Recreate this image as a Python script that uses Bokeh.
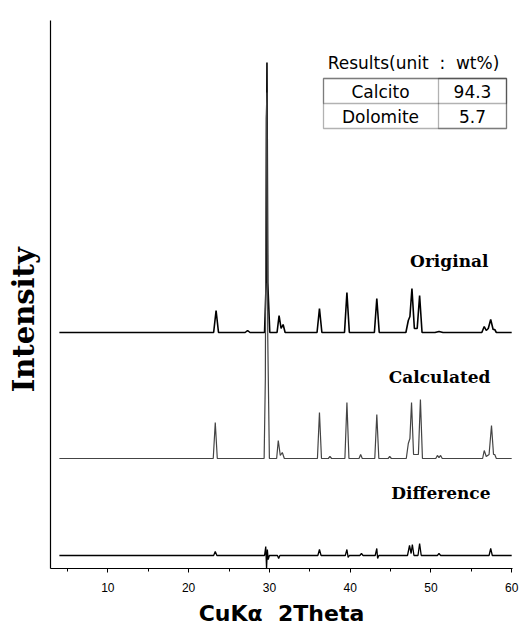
from bokeh.plotting import figure
from bokeh.models import Range1d, FixedTicker, Label, BoxAnnotation
from bokeh.embed import file_html
from bokeh.resources import INLINE

# ---- data (2theta, intensity above each trace's own baseline) ----
orig_x = [4.0, 23.1, 23.4, 23.7, 27.0, 27.3, 27.6, 29.4, 29.6, 29.7, 29.8, 30.05,
          30.95, 31.2, 31.45, 31.7, 31.95, 35.9, 36.2, 36.5, 39.3, 39.6, 39.9,
          43.0, 43.3, 43.6, 46.9, 47.2, 47.4, 47.65, 47.95, 48.3, 48.6, 48.9,
          50.5, 51.0, 51.5, 56.3, 56.6, 56.85, 57.1, 57.4, 57.7, 57.9, 58.1, 60.0]
orig_y = [0, 0, 22, 0, 0, 2, 0, 0, 50, 270, 50, 0,
          0, 17, 4, 8, 0, 0, 24, 0, 0, 40, 0,
          0, 34, 0, 0, 12, 16, 44, 4, 4, 37, 0,
          0, 1, 0, 0, 6, 2, 4, 13, 3, 3, 0, 0]

calc_x = [4.0, 23.05, 23.3, 23.55, 29.35, 29.5, 29.6, 29.7, 29.8, 30.0,
          30.9, 31.1, 31.35, 31.6, 31.85, 35.95, 36.2, 36.45, 37.3, 37.5, 37.7,
          39.35, 39.6, 39.85, 41.1, 41.3, 41.5, 43.05, 43.3, 43.55, 44.7, 44.9, 45.1,
          46.95, 47.2, 47.4, 47.6, 47.85, 48.45, 48.7, 48.95, 50.6, 50.8, 51.0, 51.2, 51.4,
          56.4, 56.6, 56.85, 57.2, 57.5, 57.75, 57.9, 58.1, 60.0]
calc_y = [0, 0, 36, 0, 0, 80, 340, 366, 120, 0,
          0, 18, 3, 6, 0, 0, 46, 0, 0, 2, 0,
          0, 56, 0, 0, 4, 0, 0, 44, 0, 0, 2, 0,
          0, 15, 20, 56, 4, 4, 59, 0, 0, 3, 1, 3, 0,
          0, 8, 2, 4, 33, 4, 4, 0, 0]

diff_x = [4.0, 23.1, 23.3, 23.5, 29.4, 29.55, 29.65, 29.75, 29.85, 30.0,
          31.0, 31.15, 31.3, 36.0, 36.2, 36.4, 39.4, 39.6, 39.75, 39.9,
          41.2, 41.4, 41.6, 43.1, 43.3, 43.4, 43.55, 47.1, 47.35, 47.55, 47.7, 47.9,
          48.4, 48.6, 48.8, 50.8, 51.0, 51.2, 57.2, 57.4, 57.6, 60.0]
diff_y = [0, 0, 4, 0, 0, 9, -13, 6, -4, 0,
          0, -3, 0, 0, 6, 0, 0, 6, -2, 0,
          0, 2, 0, 0, 7, -3, 0, 0, 10, 2, 11, 0,
          0, 12, 0, 0, 2, 0, 0, 7, 0, 0]

trace_names = ["Original", "Calculated", "Difference"]
trace_offsets = [236, 110, 13]

x_ticks = [10, 20, 30, 40, 50, 60]
x_minor = [5, 15, 25, 35, 45, 55]

NB = "\u00a0"
table_title = "Results(unit" + NB + NB + ":" + NB + NB + "wt%)"
table_phases = ["Calcito", "Dolomite"]
table_values = ["94.3", "5.7"]

# ---- figure ----
p = figure(width=519, height=632, output_backend="svg", toolbar_location=None,
           x_range=Range1d(2.9, 60.1), y_range=Range1d(0, 548),
           min_border_left=50, min_border_right=7, min_border_top=20, min_border_bottom=64)
p.outline_line_color = None
p.xgrid.visible = False
p.ygrid.visible = False
p.background_fill_color = "white"
p.border_fill_color = "white"

def shifted(ys, off):
    return [v + off for v in ys]

p.line(orig_x, shifted(orig_y, trace_offsets[0]), line_color="black", line_width=1.6)
p.line(calc_x, shifted(calc_y, trace_offsets[1]), line_color="#444444", line_width=1.2)
p.line(diff_x, shifted(diff_y, trace_offsets[2]), line_color="black", line_width=1.3)

# axes
xa = p.xaxis[0]
xa.ticker = FixedTicker(ticks=x_ticks, minor_ticks=x_minor)
xa.major_tick_in = 0
xa.major_tick_out = 4
xa.minor_tick_in = 0
xa.minor_tick_out = 3
xa.major_label_text_font = "Liberation Sans"
xa.major_label_text_font_size = "12px"
xa.major_label_text_color = "black"
xa.major_label_standoff = 10
xa.axis_label = "CuK\u03b1" + NB + NB + "2Theta"
xa.axis_label_text_font = "DejaVu Sans"
xa.axis_label_text_font_style = "bold"
xa.axis_label_text_font_size = "22px"
xa.axis_label_text_color = "black"
xa.axis_label_standoff = 6
xa.axis_line_width = 1.2

ya = p.yaxis[0]
ya.ticker = FixedTicker(ticks=[])
ya.major_tick_out = 0
ya.major_tick_in = 0
ya.minor_tick_out = 0
ya.axis_line_width = 1.2
ya.axis_label = "Intensity" + NB * 5
ya.axis_label_text_font = "DejaVu Serif"
ya.axis_label_text_font_style = "bold"
ya.axis_label_text_font_size = "29px"
ya.axis_label_text_color = "black"
ya.axis_label_standoff = 10

def px_to_x(px):
    return 2.9 + (px - 50) / (462 / 57.2)

def py_to_y(py):
    return 568 - py

label_pos = [(488, 260), (490, 376), (490, 492)]
for name, (lx, ly) in zip(trace_names, label_pos):
    p.add_layout(Label(x=px_to_x(lx), y=py_to_y(ly), text=name, text_align="right",
                       text_baseline="middle", text_font="DejaVu Serif", text_color="black",
                       text_font_style="bold", text_font_size="17px"))

# results table
tl, tm, tr = px_to_x(323), px_to_x(438), px_to_x(506)
tt, tmid, tb = py_to_y(78), py_to_y(103), py_to_y(128)
for (l, r, b, t) in [(tl, tr, tb, tt), (tl, tr, tmid, tt), (tm, tr, tb, tt)]:
    p.add_layout(BoxAnnotation(left=l, right=r, bottom=b, top=t, fill_alpha=0,
                               line_color="black", line_width=1.3))
p.add_layout(Label(x=px_to_x(413), y=py_to_y(62), text=table_title, text_align="center",
                   text_baseline="middle", text_font="DejaVu Sans", text_font_size="17px",
                   text_color="black"))
row_y = [91, 116]
for ph, val, ry in zip(table_phases, table_values, row_y):
    p.add_layout(Label(x=px_to_x(380), y=py_to_y(ry), text=ph, text_align="center",
                       text_baseline="middle", text_font="DejaVu Sans", text_font_size="17px",
                       text_color="black"))
    p.add_layout(Label(x=px_to_x(472), y=py_to_y(ry), text=val, text_align="center",
                       text_baseline="middle", text_font="DejaVu Sans", text_font_size="17px",
                       text_color="black"))

open("out.html", "w").write(file_html(p, INLINE))
